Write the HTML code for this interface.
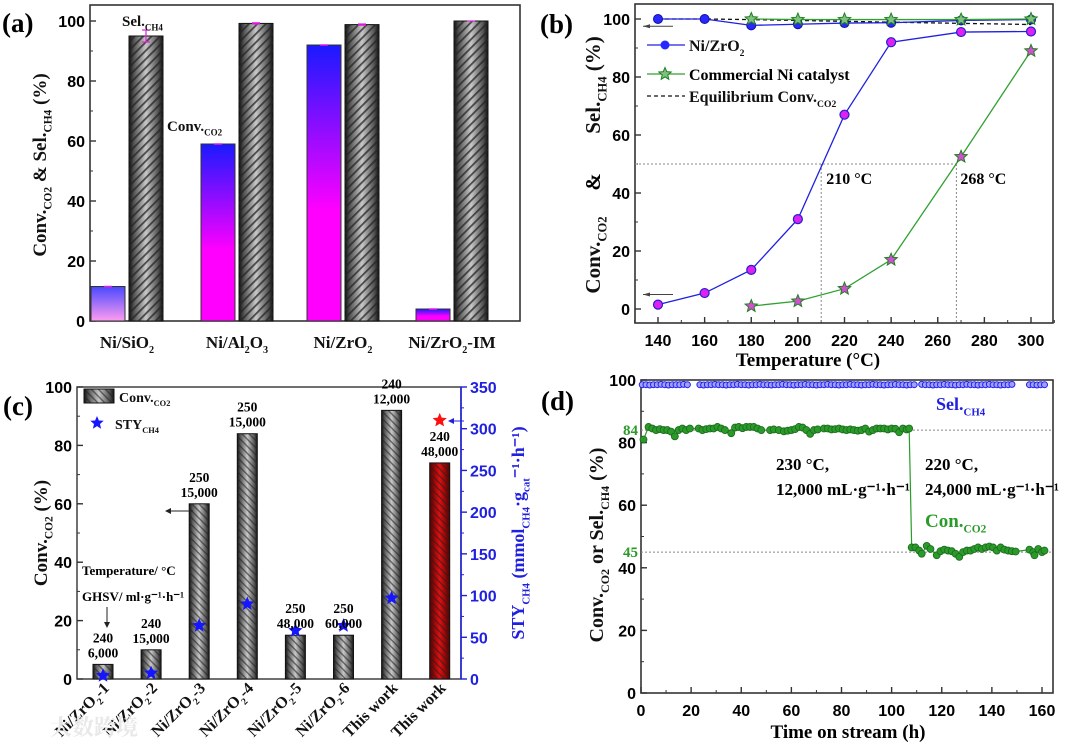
<!DOCTYPE html>
<html><head><meta charset="utf-8">
<style>
html,body{margin:0;padding:0;background:#fff;}
svg{display:block;}
text{font-family:"Liberation Serif","Noto Serif CJK SC",serif;font-weight:bold;}
.tk{font-family:"Liberation Sans",sans-serif;font-weight:bold;font-size:16px;}
</style></head>
<body>
<svg id="fig" width="1080" height="742" viewBox="0 0 1080 742" xmlns="http://www.w3.org/2000/svg">
<defs>
<linearGradient id="cyl" x1="0" x2="1" y1="0" y2="0">
<stop offset="0" stop-color="#111"/><stop offset="0.15" stop-color="#555"/><stop offset="0.5" stop-color="#c8c8c8"/><stop offset="0.85" stop-color="#555"/><stop offset="1" stop-color="#111"/>
</linearGradient>
<linearGradient id="cylr" x1="0" x2="1" y1="0" y2="0">
<stop offset="0" stop-color="#500"/><stop offset="0.5" stop-color="#e01010"/><stop offset="1" stop-color="#500"/>
</linearGradient>
<linearGradient id="bm" x1="0" x2="0" y1="0" y2="1">
<stop offset="0" stop-color="#1a1aff"/><stop offset="0.6" stop-color="#ff00ff"/><stop offset="1" stop-color="#ff00ff"/>
</linearGradient>
<linearGradient id="bm2" x1="0" x2="0" y1="0" y2="1">
<stop offset="0" stop-color="#4848ff"/><stop offset="1" stop-color="#ff9cf0"/>
</linearGradient>
<pattern id="hb" width="6" height="6" patternUnits="userSpaceOnUse" patternTransform="rotate(-45)">
<rect width="6" height="1.8" fill="#222" opacity="0.75"/>
</pattern>
<pattern id="hf" width="5" height="5" patternUnits="userSpaceOnUse" patternTransform="rotate(45)">
<rect width="5" height="1.4" fill="#222" opacity="0.6"/>
</pattern>
</defs>
<g id="root"></g>
</svg>
<script>
// ---------- Panel (a) data ----------
const aCats = ["Ni/SiO|2|", "Ni/Al|2|O|3|", "Ni/ZrO|2|", "Ni/ZrO|2|-IM"];
const aConv = [11.5, 59, 92, 4];
const aSel = [95, 99.2, 98.8, 100];
const aSelErr = [2, 0.2, 0.2, 0];
const aTicks = [0, 20, 40, 60, 80, 100];
// ---------- Panel (b) data ----------
const bTemps = [140, 160, 180, 200, 220, 240, 270, 300];
const bNiConv = [1.5, 5.5, 13.5, 31, 67, 92, 95.5, 95.7];
const bNiSel = [100, 100, 97.8, 98.2, 98.6, 98.7, 99.5, 99.8];
const bComTemps = [180, 200, 220, 240, 270, 300];
const bComConv = [1, 2.7, 7, 17, 52.5, 89];
const bComSel = [100, 99.8, 99.8, 99.8, 99.8, 100];
const bEqTemps = [140, 160, 180, 200, 220, 240, 270, 300];
const bEq = [100, 100, 99.8, 99.5, 99.2, 98.9, 98.5, 98.1];
const bXTicks = [140, 160, 180, 200, 220, 240, 260, 280, 300];
const bYTicks = [0, 20, 40, 60, 80, 100];
// ---------- Panel (c) data ----------
const cCats = ["Ni/ZrO|2|-1", "Ni/ZrO|2|-2", "Ni/ZrO|2|-3", "Ni/ZrO|2|-4", "Ni/ZrO|2|-5", "Ni/ZrO|2|-6", "This work", "This work"];
const cConv = [5, 10, 60, 84, 15, 15, 92, 74];
const cSTY = [4, 7, 64, 90, 58, 64, 97, 310];
const cTemp = ["240", "240", "250", "250", "250", "250", "240", "240"];
const cGHSV = ["6,000", "15,000", "15,000", "15,000", "48,000", "60,000", "12,000", "48,000"];
const cYTicks = [0, 20, 40, 60, 80, 100];
const cY2Ticks = [0, 50, 100, 150, 200, 250, 300, 350];
// ---------- Panel (d) data ----------
const dConvT = [1,3,4.5,6,7.5,9,10.5,12,13.5,15,16.5,18,19.5,23,24.5,26,27.5,29,30.5,32,33.5,36,37.5,39,40.5,42,43.5,45,46.5,48,51.5,53,55,57,58.5,60,61.5,63,64.5,66,67.5,69,70.5,73,74.5,76,77.5,79,80.5,82,83.5,85,86.5,88,89.5,91,92.5,94,95.5,97,98.5,100,101.5,103,104.5,106,107,108,109.5,111,112,114,115.5,118,119.5,121,122.5,124,125.5,127,128.5,130,131.5,133,134.5,136,137.5,139,140.5,142,143.5,145,146.5,148,149.5,155,156.5,157,158.5,160,161];
const dConv = [81,85,84.5,84,84.3,84,84,83.5,82,84,84.5,84,84.5,84.5,84,84.3,84.5,84.5,85,84.5,84,83,84.8,85,84.6,85,85,85,84.5,84,84,84.2,84,83.6,83.8,84,84.3,85,84.8,84,82.8,84,84.2,84.5,84.5,84.2,84.3,84.5,84.2,84,84.2,84,83.8,84,84.5,83.5,84,84.5,84.5,84.5,84.2,84.5,84.4,83.3,84.5,84.2,84.5,46.5,46.5,45.5,44.5,47,46,44,45.3,45.8,45.5,45.3,44.5,43.5,45,45.5,45.5,46,46.5,46,46.5,46.8,46.5,45.5,46.5,45.8,45.5,45.3,45.2,45.8,45,44,46,45,45.5];
const dSelT = [0.5,2,3.5,5,6.5,8,9.5,11,12.5,14,15.5,17,18.5,23.5,25,26.5,28,29.5,31,32.5,34,35.5,37,38.5,40,41.5,43,44.5,46,47.5,49,50.5,52,53.5,55,56.5,58,59.5,61,62.5,64,65.5,67,68.5,70,71.5,73,74.5,76,77.5,79,80.5,82,83.5,85,86.5,88,89.5,91,92.5,94,95.5,97,98.5,100,101.5,103,104.5,106,107.5,109,112,113.5,115,116.5,118,119.5,121,122.5,124,125.5,127,128.5,130,131.5,133,134.5,136,137.5,139,140.5,142,143.5,145,146.5,148,155,156.5,158,159.5,161];
const dSel = [98.5,98.5,98.4,98.5,98.5,98.6,98.5,98.4,98.5,98.5,98.5,98.6,98.5,98.5,98.4,98.5,98.5,98.6,98.5,98.5,98.4,98.5,98.5,98.6,98.5,98.5,98.4,98.5,98.5,98.6,98.5,98.5,98.4,98.5,98.5,98.6,98.5,98.5,98.4,98.5,98.5,98.6,98.5,98.5,98.4,98.5,98.5,98.6,98.5,98.5,98.4,98.5,98.5,98.6,98.5,98.5,98.4,98.5,98.5,98.6,98.5,98.5,98.4,98.5,98.5,98.6,98.5,98.5,98.4,98.5,98.5,98.6,98.5,98.5,98.4,98.5,98.5,98.6,98.5,98.5,98.4,98.5,98.5,98.6,98.5,98.5,98.4,98.5,98.5,98.6,98.5,98.5,98.4,98.5,98.5,98.6,98.5,98.5,98.4,98.5,98.5];
const dXTicks = [0, 20, 40, 60, 80, 100, 120, 140, 160];
const dYTicks = [0, 20, 40, 60, 80, 100];

const NS = "http://www.w3.org/2000/svg";
const root = document.getElementById("root");
function el(tag, attrs, parent, txt) {
  const e = document.createElementNS(NS, tag);
  for (const k in attrs) e.setAttribute(k, attrs[k]);
  if (txt !== undefined) e.textContent = txt;
  (parent || root).appendChild(e);
  return e;
}
function group(name, parent) {
  const g = el("g", {}, parent);
  
  
  return g;
}
function rich(parent, x, y, str, size, anchor, fill, extra) {
  const t = el("text", Object.assign({x: x, y: y, "font-size": size, "text-anchor": anchor || "start", fill: fill || "#111"}, extra || {}), parent);
  const parts = str.split("|");
  parts.forEach((p, i) => {
    if (!p) return;
    const s = el("tspan", {}, t, p);
    if (i % 2 === 1) { s.setAttribute("font-size", size * 0.6); s.setAttribute("dy", size * 0.3); }
    else if (i > 0) { s.setAttribute("dy", -size * 0.3); }
  });
  return t;
}
function linScale(d0, d1, r0, r1) { return v => r0 + (v - d0) * (r1 - r0) / (d1 - d0); }
function frame(g, x0, y0, x1, y1) {
  el("rect", {x: x0, y: y0, width: x1 - x0, height: y1 - y0, fill: "none", stroke: "#333", "stroke-width": 1.6}, g);
}
function star(g, cx, cy, r, fill, stroke) {
  let pts = [];
  for (let i = 0; i < 10; i++) {
    const a = -Math.PI / 2 + i * Math.PI / 5;
    const rr = i % 2 === 0 ? r : r * 0.45;
    pts.push((cx + rr * Math.cos(a)).toFixed(1) + "," + (cy + rr * Math.sin(a)).toFixed(1));
  }
  return el("polygon", {points: pts.join(" "), fill: fill, stroke: stroke || "none", "stroke-width": 1}, g);
}
function yTicksLeft(g, ys, ticks, x0, minorStep, d0, d1) {
  ticks.forEach(v => {
    el("line", {x1: x0, x2: x0 + 6, y1: ys(v), y2: ys(v), stroke: "#333", "stroke-width": 1.4}, g);
    el("text", {x: x0 - 5, y: ys(v) + 6, "text-anchor": "end", class: "tk"}, g, v);
  });
  for (let v = d0; v <= d1; v += minorStep) el("line", {x1: x0, x2: x0 + 3, y1: ys(v), y2: ys(v), stroke: "#333", "stroke-width": 1}, g);
}

/* ================= Panel A ================= */
(function(){
  const g = group("panel-a-bar-chart");
  const X0 = 90, X1 = 520, Y0 = 5, Y1 = 321;
  const ys = linScale(0, 100, 321, 21);
  const centers = [127, 237, 343, 452];
  frame(g, X0, Y0, X1, Y1);
  yTicksLeft(g, ys, aTicks, X0, 10, 0, 100);
  aCats.forEach((c, i) => {
    const cx = centers[i];
    const cb = el("rect", {x: cx - 36, y: ys(aConv[i]), width: 34, height: ys(0) - ys(aConv[i]), fill: i === 0 ? "url(#bm2)" : "url(#bm)", stroke: "#333", "stroke-width": 1}, g);
    
    
    const sb = el("rect", {x: cx + 2, y: ys(aSel[i]), width: 34, height: ys(0) - ys(aSel[i]), fill: "url(#cyl)", stroke: "#111", "stroke-width": 1}, g);
    
    
    el("rect", {x: cx + 2, y: ys(aSel[i]), width: 34, height: ys(0) - ys(aSel[i]), fill: "url(#hb)"}, g);
    el("line", {x1: cx - 23, x2: cx - 15, y1: ys(aConv[i]), y2: ys(aConv[i]), stroke: "#e020e0", "stroke-width": 1.5}, g);
    if (aSelErr[i] > 0) {
      el("line", {x1: cx + 19, x2: cx + 19, y1: ys(aSel[i] + aSelErr[i]), y2: ys(aSel[i] - aSelErr[i]), stroke: "#e020e0", "stroke-width": 1.2}, g);
      el("line", {x1: cx + 15, x2: cx + 23, y1: ys(aSel[i] + aSelErr[i]), y2: ys(aSel[i] + aSelErr[i]), stroke: "#e020e0", "stroke-width": 1.2}, g);
      el("line", {x1: cx + 15, x2: cx + 23, y1: ys(aSel[i] - aSelErr[i]), y2: ys(aSel[i] - aSelErr[i]), stroke: "#e020e0", "stroke-width": 1.2}, g);
    } else {
      el("line", {x1: cx + 15, x2: cx + 23, y1: ys(aSel[i]), y2: ys(aSel[i]), stroke: "#e020e0", "stroke-width": 1.2}, g);
    }
    const lab = rich(g, cx, 348, c, 17, "middle");
    
    
  });
  rich(g, 122, 26, "Sel.|CH4|", 15, "start");
  rich(g, 167, 131, "Conv.|CO2|", 15, "start");
  const yt = rich(g, 0, 0, "Conv.|CO2| & Sel.|CH4| (%)", 19, "middle", "#111", {transform: "translate(46,165) rotate(-90)"});
  
  
  el("text", {x: 2, y: 32, "font-size": 27}, g, "(a)");
})();

/* ================= Panel B ================= */
(function(){
  const g = group("panel-b-line-chart");
  const X0 = 635, X1 = 1053, Y0 = 4, Y1 = 323;
  const xs = linScale(140, 300, 658, 1031);
  const ys = linScale(0, 100, 309, 19);
  frame(g, X0, Y0, X1, Y1);
  yTicksLeft(g, ys, bYTicks, X0, 10, 0, 100);
  bXTicks.forEach(v => {
    el("line", {x1: xs(v), x2: xs(v), y1: Y1, y2: Y1 - 6, stroke: "#333", "stroke-width": 1.4}, g);
    el("text", {x: xs(v), y: 346, "text-anchor": "middle", class: "tk"}, g, v);
  });
  for (let v = 130; v <= 310; v += 10) el("line", {x1: xs(v), x2: xs(v), y1: Y1, y2: Y1 - 3, stroke: "#333"}, g);
  el("path", {d: `M${X0},${ys(50)}H${xs(268)}M${xs(210)},${ys(50)}V${Y1}M${xs(268)},${ys(50)}V${Y1}`, stroke: "#888", "stroke-dasharray": "2,2", fill: "none"}, g);
  el("text", {x: xs(210) + 5, y: ys(50) + 20, "font-size": 16}, g, "210 °C");
  el("text", {x: xs(268) + 4, y: ys(50) + 20, "font-size": 16}, g, "268 °C");
  el("path", {d: `M673,${ys(97.5)}H643M673,${ys(5)}H643`, stroke: "#444", "stroke-width": 1}, g);
  el("path", {d: `M643,${ys(97.5)}l7,-2v4zM643,${ys(5)}l7,-2v4z`, fill: "#444"}, g);
  const eq = el("polyline", {points: bEqTemps.map((t, i) => xs(t) + "," + ys(bEq[i])).join(" "), fill: "none", stroke: "#111", "stroke-width": 1.3, "stroke-dasharray": "4,3"}, g);
  
  
  const drawSeries = (temps, vals, color, marker, name) => {
    const s = group(name, g);
    el("polyline", {points: temps.map((t, i) => xs(t) + "," + ys(vals[i])).join(" "), fill: "none", stroke: color, "stroke-width": 1.3}, s);
    temps.forEach((t, i) => {
      if (marker === "ball") el("circle", {cx: xs(t), cy: ys(vals[i]), r: 4.5, fill: "#e020f0", stroke: "#2020d0", "stroke-width": 1.2}, s);
      else if (marker === "ballb") el("circle", {cx: xs(t), cy: ys(vals[i]), r: 4.5, fill: "#2828ff", stroke: "#1010a0", "stroke-width": 1}, s);
      else star(s, xs(t), ys(vals[i]), 6.5, marker === "starm" ? "#d050d0" : "#80c080", "#208020");
    });
  };
  drawSeries(bTemps, bNiSel, "#2020e0", "ballb", "ni-zro2-selectivity");
  drawSeries(bTemps, bNiConv, "#2020e0", "ball", "ni-zro2-conversion");
  drawSeries(bComTemps, bComSel, "#30a030", "starg", "commercial-selectivity");
  drawSeries(bComTemps, bComConv, "#30a030", "starm", "commercial-conversion");
  const lg = group("legend", g);
  el("line", {x1: 647, x2: 685, y1: 45, y2: 45, stroke: "#2020e0", "stroke-width": 1.3}, lg);
  el("circle", {cx: 665, cy: 45, r: 4.5, fill: "#2828ff"}, lg);
  rich(lg, 689, 51, "Ni/ZrO|2|", 16, "start");
  el("line", {x1: 647, x2: 685, y1: 74, y2: 74, stroke: "#30a030", "stroke-width": 1.3}, lg);
  star(lg, 665, 74, 6.5, "#80c080", "#208020");
  el("text", {x: 689, y: 80, "font-size": 16}, lg, "Commercial Ni catalyst");
  el("line", {x1: 647, x2: 685, y1: 96, y2: 96, stroke: "#111", "stroke-width": 1.3, "stroke-dasharray": "4,3"}, lg);
  rich(lg, 689, 102, "Equilibrium Conv.|CO2|", 16, "start");
  rich(g, 0, 0, "Conv.|CO2|", 21, "middle", "#111", {transform: "translate(600,255) rotate(-90)"});
  el("text", {x: 0, y: 0, "font-size": 21, "text-anchor": "middle", transform: "translate(600,182) rotate(-90)"}, g, "&");
  rich(g, 0, 0, "Sel.|CH4| (%)", 21, "middle", "#111", {transform: "translate(600,85) rotate(-90)"});
  el("text", {x: 808, y: 366, "font-size": 19, "text-anchor": "middle"}, g, "Temperature (°C)");
  el("text", {x: 540, y: 33, "font-size": 27}, g, "(b)");
})();

/* ================= Panel C ================= */
(function(){
  const g = group("panel-c-bar-chart");
  const X0 = 77, X1 = 461, Y0 = 387, Y1 = 679;
  const ys = linScale(0, 100, 679, 387);
  const ys2 = linScale(0, 350, 679, 387);
  const xs = i => 103 + i * 48.1;
  el("rect", {x: X0, y: Y0, width: X1 - X0, height: Y1 - Y0, fill: "none", stroke: "#333", "stroke-width": 1.4}, g);
  el("line", {x1: X1, x2: X1, y1: Y0, y2: Y1, stroke: "#2020e0", "stroke-width": 1.6}, g);
  yTicksLeft(g, ys, cYTicks, X0, 10, 0, 100);
  cY2Ticks.forEach(v => {
    el("line", {x1: X1, x2: X1 + 6, y1: ys2(v), y2: ys2(v), stroke: "#2020e0", "stroke-width": 1.4}, g);
    el("text", {x: X1 + 9, y: ys2(v) + 6, class: "tk", fill: "#2020e0"}, g, v);
  });
  for (let v = 25; v < 350; v += 50) el("line", {x1: X1, x2: X1 + 3, y1: ys2(v), y2: ys2(v), stroke: "#2020e0"}, g);
  cCats.forEach((c, i) => {
    const cx = xs(i), red = i === 7;
    const b = el("rect", {x: cx - 10, y: ys(cConv[i]), width: 20, height: ys(0) - ys(cConv[i]), fill: red ? "url(#cylr)" : "url(#cyl)", stroke: "#111", "stroke-width": 1}, g);
    
    
    el("rect", {x: cx - 10, y: ys(cConv[i]), width: 20, height: ys(0) - ys(cConv[i]), fill: "url(#hf)"}, g);
    const s = star(g, cx, ys2(cSTY[i]), 7.5, red ? "#ff1010" : "#1515ff");
    
    
    el("text", {x: cx, y: ys(cConv[i]) - 22, "font-size": 13.5, "text-anchor": "middle"}, g, cTemp[i]);
    el("text", {x: cx, y: ys(cConv[i]) - 7, "font-size": 13.5, "text-anchor": "middle"}, g, cGHSV[i]);
    rich(g, 0, 0, c, 16, "end", "#111", {transform: `translate(${cx + 7},${Y1 + 10}) rotate(-45)`});
  });
  el("rect", {x: 84, y: 389, width: 30, height: 14, fill: "url(#cyl)", stroke: "#111"}, g);
  el("rect", {x: 84, y: 389, width: 30, height: 14, fill: "url(#hf)"}, g);
  rich(g, 119, 402, "Conv.|CO2|", 14, "start");
  star(g, 97, 423, 7, "#1515ff");
  rich(g, 115, 429, "STY|CH4|", 14, "start");
  el("text", {x: 82, y: 575, "font-size": 13}, g, "Temperature/ °C");
  el("text", {x: 82, y: 601, "font-size": 13}, g, "GHSV/ ml·g⁻¹·h⁻¹");
  el("path", {d: "M107,607V624", stroke: "#222"}, g);
  el("path", {d: "M107,628l-3,-6h6z", fill: "#222"}, g);
  el("path", {d: "M193,511H168", stroke: "#222"}, g);
  el("path", {d: "M165,511l6,-3v6z", fill: "#222"}, g);
  el("path", {d: "M453,421H464", stroke: "#2020e0"}, g);
  el("path", {d: "M448,421l6,-3v6z", fill: "#2020e0"}, g);
  rich(g, 0, 0, "Conv.|CO2| (%)", 19, "middle", "#111", {transform: "translate(47,533) rotate(-90)"});
  rich(g, 0, 0, "STY|CH4| (mmol|CH4|·g|cat|⁻¹·h⁻¹)", 18, "middle", "#2020e0", {transform: "translate(524,533) rotate(-90)"});
  el("text", {x: 3, y: 415, "font-size": 27}, g, "(c)");
  el("text", {x: 50, y: 735, "font-size": 22, fill: "#e8e8e8", "font-family": "Noto Sans CJK SC, sans-serif"}, g, "大数跨境");
})();

/* ================= Panel D ================= */
(function(){
  const g = group("panel-d-scatter-chart");
  const X0 = 641, X1 = 1053, Y0 = 380, Y1 = 693;
  const xs = linScale(0, 160, 641, 1042);
  const ys = linScale(0, 100, 693, 380);
  frame(g, X0, Y0, X1, Y1);
  yTicksLeft(g, ys, dYTicks, X0, 10, 0, 100);
  dXTicks.forEach(v => {
    el("line", {x1: xs(v), x2: xs(v), y1: Y1, y2: Y1 - 6, stroke: "#333", "stroke-width": 1.4}, g);
    el("text", {x: xs(v), y: 716, "text-anchor": "middle", class: "tk"}, g, v);
  });
  for (let v = 10; v <= 160; v += 20) el("line", {x1: xs(v), x2: xs(v), y1: Y1, y2: Y1 - 3, stroke: "#333"}, g);
  el("path", {d: `M${X0},${ys(84)}H${X1}M${X0},${ys(45)}H${X1}`, stroke: "#888", "stroke-dasharray": "2,2"}, g);
  el("text", {x: 638, y: ys(84) + 5, "font-size": 15, fill: "#2a9a2a", "font-family": "Liberation Sans, sans-serif", "text-anchor": "end"}, g, "84");
  el("text", {x: 638, y: ys(45) + 5, "font-size": 15, fill: "#2a9a2a", "font-family": "Liberation Sans, sans-serif", "text-anchor": "end"}, g, "45");
  const sel = group("selectivity-series", g);
  dSelT.forEach((t, i) => el("circle", {cx: xs(t), cy: ys(dSel[i]), r: 3, fill: "#a0a0ff", stroke: "#2020ee", "stroke-width": 1}, sel));
  const conv = group("conversion-series", g);
  el("polyline", {points: dConvT.map((t, i) => xs(t) + "," + ys(dConv[i])).join(" "), fill: "none", stroke: "#2a9a2a", "stroke-width": 1.2}, conv);
  dConvT.forEach((t, i) => el("circle", {cx: xs(t), cy: ys(dConv[i]), r: 3.5, fill: "#2a9a2a", stroke: "#1a6a1a", "stroke-width": 0.8}, conv));
  rich(g, 936, 410, "Sel.|CH4|", 18, "start", "#2020e0");
  el("text", {x: 776, y: 470, "font-size": 17}, g, "230 °C,");
  el("text", {x: 776, y: 495, "font-size": 17}, g, "12,000 mL·g⁻¹·h⁻¹");
  el("text", {x: 925, y: 470, "font-size": 17}, g, "220 °C,");
  el("text", {x: 925, y: 495, "font-size": 17}, g, "24,000 mL·g⁻¹·h⁻¹");
  rich(g, 925, 527, "Con.|CO2|", 19, "start", "#2a9a2a");
  rich(g, 0, 0, "Conv.|CO2| or Sel.|CH4| (%)", 20, "middle", "#111", {transform: "translate(603,545) rotate(-90)"});
  el("text", {x: 848, y: 738, "font-size": 19, "text-anchor": "middle"}, g, "Time on stream (h)");
  el("text", {x: 541, y: 410, "font-size": 27}, g, "(d)");
})();
</script>
</body></html>
